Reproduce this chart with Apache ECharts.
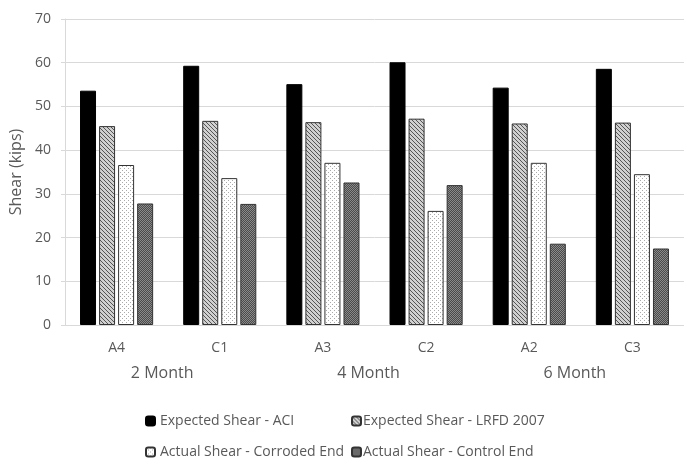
<!DOCTYPE html>
<html>
<head>
<meta charset="utf-8">
<script src="https://cdn.jsdelivr.net/npm/echarts@6/dist/echarts.min.js"></script>
<style>html,body{margin:0;padding:0;background:#fff;}#c{width:684px;height:459px;}</style>
</head>
<body>
<div id="c"></div>
<script>
const categories = ['A4', 'C1', 'A3', 'C2', 'A2', 'C3'];
const groups = ['2 Month', '4 Month', '6 Month'];
const seriesNames = ['Expected Shear - ACI', 'Expected Shear - LRFD 2007', 'Actual Shear - Corroded End', 'Actual Shear - Control End'];
const aci = [53.6, 59.3, 55.1, 60.1, 54.3, 58.6];
const lrfd = [45.5, 46.7, 46.4, 47.2, 46.1, 46.3];
const corroded = [36.6, 33.6, 37.1, 26.1, 37.1, 34.5];
const control = [27.8, 27.7, 32.6, 32.0, 18.6, 17.5];
const yTicks = [0, 10, 20, 30, 40, 50, 60, 70];

function pattern(kind) {
  const c = document.createElement('canvas');
  const ctx = c.getContext('2d');
  if (kind === 'hatch') {
    c.width = 4; c.height = 4;
    ctx.fillStyle = '#d0d0d0'; ctx.fillRect(0, 0, 4, 4);
    ctx.fillStyle = '#555';
    for (let i = 0; i < 4; i++) { ctx.fillRect(i, i, 1, 1); }
  } else if (kind === 'dots') {
    c.width = 4; c.height = 4;
    ctx.fillStyle = '#fff'; ctx.fillRect(0, 0, 4, 4);
    ctx.fillStyle = '#aaa';
    ctx.fillRect(0, 0, 1, 1); ctx.fillRect(2, 2, 1, 1);
  } else {
    c.width = 2; c.height = 2;
    ctx.fillStyle = '#4a4a4a'; ctx.fillRect(0, 0, 2, 2);
    ctx.fillStyle = '#8a8a8a';
    ctx.fillRect(0, 0, 1, 1); ctx.fillRect(1, 1, 1, 1);
  }
  return { image: c, repeat: 'repeat' };
}

const font = 'Open Sans';
const txt = '#595959';
const fills = ['#000', pattern('hatch'), pattern('dots'), pattern('check')];
const dataSets = [aci, lrfd, corroded, control];
const legendPos = [[145, 414], [351, 414], [145, 445], [351, 445]];

const chart = echarts.init(document.getElementById('c'), null, { renderer: 'canvas' });
chart.setOption({
  animation: false,
  textStyle: { fontFamily: font },
  grid: { left: 65, top: 19, width: 625, bottom: 134, containLabel: false },
  legend: seriesNames.map((n, i) => ({
    left: legendPos[i][0], top: legendPos[i][1], itemWidth: 9, itemHeight: 9, padding: 0,
    data: [n],
    textStyle: { color: txt, fontSize: 14, fontFamily: font, padding: [0, 0, 0, i % 2 ? -3 : 0] }
  })),
  xAxis: [
    { type: 'category', data: categories, gridIndex: 0, position: 'bottom',
      axisLine: { lineStyle: { color: '#d9d9d9' } }, axisTick: { show: false },
      axisLabel: { color: txt, fontSize: 14, margin: 16 } },
    { type: 'category', data: groups, gridIndex: 0, position: 'bottom', offset: 24,
      axisLine: { show: false }, axisTick: { show: false },
      axisLabel: { color: txt, fontSize: 16, margin: 16, padding: [0, 12, 0, 0] } }
  ],
  yAxis: {
    type: 'value', min: 0, max: 70, interval: 10,
    name: 'Shear (kips)', nameLocation: 'middle', nameGap: 36,
    nameTextStyle: { color: txt, fontSize: 16 },
    axisLine: { show: true, lineStyle: { color: '#d9d9d9' } },
    axisTick: { show: true, length: 4, lineStyle: { color: '#d9d9d9' } },
    axisLabel: { color: txt, fontSize: 14, margin: 14,
      formatter: v => yTicks.includes(v) ? String(v) : '' },
    splitLine: { lineStyle: { color: '#d9d9d9' } }
  },
  series: dataSets.map((d, i) => ({
    name: seriesNames[i], type: 'bar', data: d, xAxisIndex: 0,
    barWidth: 16, barGap: '19%', barCategoryGap: '30%',
    itemStyle: { color: fills[i], borderColor: i === 0 ? '#000' : '#333', borderWidth: 1 }
  }))
});
</script>
</body>
</html>
